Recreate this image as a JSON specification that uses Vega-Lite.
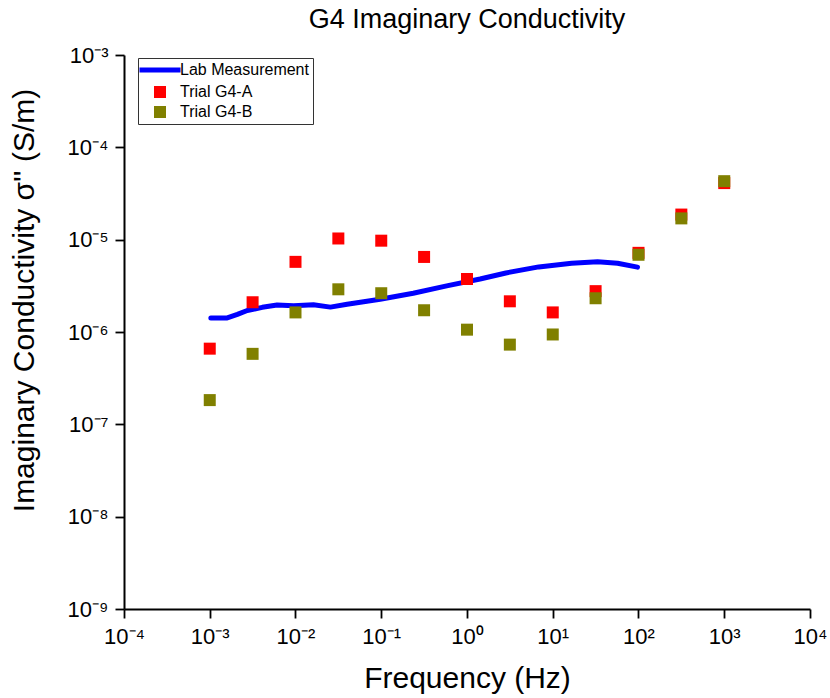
{
  "$schema": "https://vega.github.io/schema/vega-lite/v6.json",
  "width": 686,
  "height": 554,
  "autosize": "none",
  "padding": {"left": 124, "top": 55, "right": 20, "bottom": 89},
  "background": "white",
  "config": {
    "font": "Liberation Sans",
    "view": {"stroke": null},
    "axis": {
      "grid": false,
      "domainColor": "black",
      "domainWidth": 2,
      "tickColor": "black",
      "tickWidth": 1.8,
      "tickSize": 9,
      "labelFontSize": 22,
      "labelColor": "black",
      "titleFontSize": 30,
      "titleFontWeight": "normal",
      "titleColor": "black"
    }
  },
  "title": {"text": "G4 Imaginary Conductivity", "fontSize": 27, "fontWeight": "normal", "color": "black", "offset": 10},
  "datasets": {
    "lab": [
      {"f": 0.00103, "s": 1.42e-6, "series": "Lab Measurement"},
      {"f": 0.0016, "s": 1.42e-6, "series": "Lab Measurement"},
      {"f": 0.0021, "s": 1.55e-6, "series": "Lab Measurement"},
      {"f": 0.00274, "s": 1.71e-6, "series": "Lab Measurement"},
      {"f": 0.0041, "s": 1.85e-6, "series": "Lab Measurement"},
      {"f": 0.0061, "s": 1.96e-6, "series": "Lab Measurement"},
      {"f": 0.0095, "s": 1.92e-6, "series": "Lab Measurement"},
      {"f": 0.0162, "s": 1.97e-6, "series": "Lab Measurement"},
      {"f": 0.0255, "s": 1.86e-6, "series": "Lab Measurement"},
      {"f": 0.04, "s": 2.0e-6, "series": "Lab Measurement"},
      {"f": 0.097, "s": 2.26e-6, "series": "Lab Measurement"},
      {"f": 0.236, "s": 2.63e-6, "series": "Lab Measurement"},
      {"f": 0.58, "s": 3.16e-6, "series": "Lab Measurement"},
      {"f": 1.42, "s": 3.75e-6, "series": "Lab Measurement"},
      {"f": 2.84, "s": 4.36e-6, "series": "Lab Measurement"},
      {"f": 6.87, "s": 5.07e-6, "series": "Lab Measurement"},
      {"f": 16.6, "s": 5.56e-6, "series": "Lab Measurement"},
      {"f": 33.3, "s": 5.75e-6, "series": "Lab Measurement"},
      {"f": 57, "s": 5.56e-6, "series": "Lab Measurement"},
      {"f": 97.3, "s": 5.04e-6, "series": "Lab Measurement"}
    ],
    "pts": [
      {"f": 0.001, "s": 6.6e-7, "series": "Trial G4-A"},
      {"f": 0.00316, "s": 2.1e-6, "series": "Trial G4-A"},
      {"f": 0.01, "s": 5.75e-6, "series": "Trial G4-A"},
      {"f": 0.0316, "s": 1.03e-5, "series": "Trial G4-A"},
      {"f": 0.1, "s": 9.75e-6, "series": "Trial G4-A"},
      {"f": 0.316, "s": 6.5e-6, "series": "Trial G4-A"},
      {"f": 1, "s": 3.75e-6, "series": "Trial G4-A"},
      {"f": 3.16, "s": 2.15e-6, "series": "Trial G4-A"},
      {"f": 10, "s": 1.63e-6, "series": "Trial G4-A"},
      {"f": 31.6, "s": 2.77e-6, "series": "Trial G4-A"},
      {"f": 100, "s": 7.2e-6, "series": "Trial G4-A"},
      {"f": 316, "s": 1.87e-5, "series": "Trial G4-A"},
      {"f": 1000, "s": 4.1e-5, "series": "Trial G4-A"},
      {"f": 0.001, "s": 1.83e-7, "series": "Trial G4-B"},
      {"f": 0.00316, "s": 5.8e-7, "series": "Trial G4-B"},
      {"f": 0.01, "s": 1.63e-6, "series": "Trial G4-B"},
      {"f": 0.0316, "s": 2.9e-6, "series": "Trial G4-B"},
      {"f": 0.1, "s": 2.63e-6, "series": "Trial G4-B"},
      {"f": 0.316, "s": 1.72e-6, "series": "Trial G4-B"},
      {"f": 1, "s": 1.06e-6, "series": "Trial G4-B"},
      {"f": 3.16, "s": 7.3e-7, "series": "Trial G4-B"},
      {"f": 10, "s": 9.4e-7, "series": "Trial G4-B"},
      {"f": 31.6, "s": 2.32e-6, "series": "Trial G4-B"},
      {"f": 100, "s": 6.86e-6, "series": "Trial G4-B"},
      {"f": 316, "s": 1.7e-5, "series": "Trial G4-B"},
      {"f": 1000, "s": 4.3e-5, "series": "Trial G4-B"}
    ]
  },
  "layer": [
    {
      "data": {"name": "lab"},
      "mark": {"type": "line", "strokeWidth": 5, "interpolate": "linear", "strokeCap": "round", "strokeJoin": "round"},
      "encoding": {
        "x": {
          "field": "f", "type": "quantitative",
          "scale": {"type": "log", "domain": [0.0001, 10000], "nice": false},
          "axis": {
            "title": "Frequency (Hz)",
            "values": [0.0001, 0.001, 0.01, 0.1, 1, 10, 100, 1000, 10000],
            "labelExpr": "'10' + (datum.value < 1 ? '⁻' : '') + ['⁰','¹','²','³','⁴','⁵','⁶','⁷','⁸','⁹'][abs(round(log(datum.value)/LN10))]",
            "labelPadding": 8,
            "titlePadding": 16,
            "labelFlush": false
          }
        },
        "y": {
          "field": "s", "type": "quantitative",
          "scale": {"type": "log", "domain": [1e-9, 0.001], "nice": false},
          "axis": {
            "title": "Imaginary Conductivity σ'' (S/m)",
            "values": [1e-9, 1e-8, 1e-7, 1e-6, 1e-5, 1e-4, 1e-3],
            "labelExpr": "'10' + (datum.value < 1 ? '⁻' : '') + ['⁰','¹','²','³','⁴','⁵','⁶','⁷','⁸','⁹'][abs(round(log(datum.value)/LN10))]",
            "labelPadding": 7,
            "titlePadding": 28,
            "titleY": 245,
            "labelFlush": false
          }
        },
        "color": {
          "field": "series", "type": "nominal",
          "scale": {"domain": ["Lab Measurement", "Trial G4-A", "Trial G4-B"], "range": ["#0000ff", "#ff0000", "#808000"]},
          "legend": {
            "title": null,
            "orient": "none",
            "legendX": 14,
            "legendY": 3,
            "strokeColor": "#333333",
            "fillColor": "white",
            "padding": 4,
            "labelFontSize": 16,
            "labelColor": "black",
            "symbolType": "square",
            "symbolSize": 144,
            "symbolStrokeWidth": 0,
            "symbolOffset": 10,
            "labelOffset": 12,
            "rowPadding": 4,
            "encode": {
              "symbols": {
                "update": {
                  "shape": {"signal": "datum.value === 'Lab Measurement' ? 'stroke' : 'square'"},
                  "size": {"signal": "datum.value === 'Lab Measurement' ? 1681 : 144"},
                  "strokeWidth": {"signal": "datum.value === 'Lab Measurement' ? 5 : 0"}
                }
              }
            }
          }
        }
      }
    },
    {
      "data": {"name": "pts"},
      "mark": {"type": "square", "size": 144, "opacity": 1},
      "encoding": {
        "x": {"field": "f", "type": "quantitative"},
        "y": {"field": "s", "type": "quantitative"},
        "color": {"field": "series", "type": "nominal"}
      }
    }
  ]
}
